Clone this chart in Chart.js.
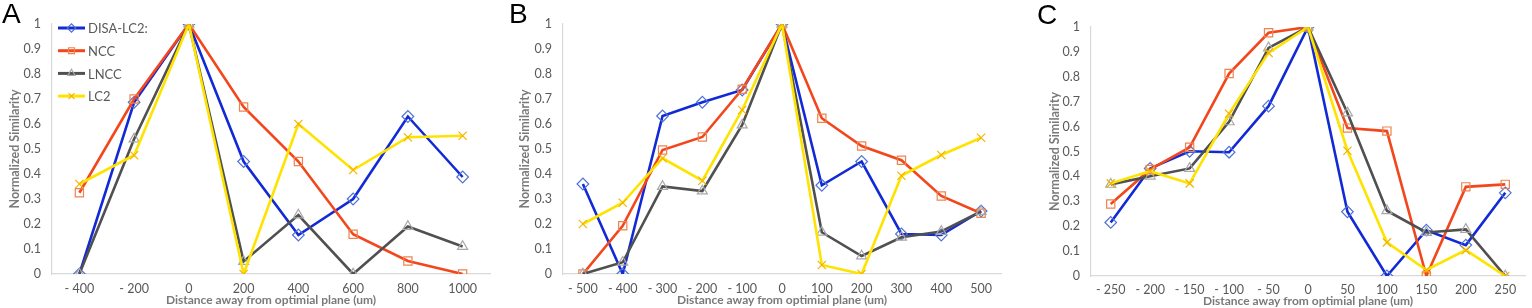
<!DOCTYPE html>
<html>
<head>
<meta charset="utf-8">
<script src="https://cdn.jsdelivr.net/npm/chart.js@4.4.1/dist/chart.umd.min.js"></script>
<style>
  body { margin: 0; background: #fff; width: 1532px; height: 308px; overflow: hidden; position: relative; }
  canvas { position: absolute; top: 0; }
  .letter { position: absolute; font-family: "Liberation Sans", Arial, sans-serif; font-size: 28px; line-height: 1; color: #000; }
</style>
</head>
<body>
<canvas id="ca" width="510" height="308" style="left:0"></canvas>
<canvas id="cb" width="510" height="308" style="left:510px"></canvas>
<canvas id="cc" width="512" height="308" style="left:1020px"></canvas>
<div class="letter" style="left:2px;top:0">A</div>
<div class="letter" style="left:509px;top:0">B</div>
<div class="letter" style="left:1037px;top:1px">C</div>
<script>
const seriesNames = ['DISA-LC2:', 'NCC', 'LNCC', 'LC2'];

// panel A
const labelsA = ['- 400', '- 200', '0', '200', '400', '600', '800', '1000'];
const aDisa = [0, 0.687, 1, 0.45, 0.156, 0.30, 0.63, 0.388];
const aNcc  = [0.325, 0.70, 1, 0.668, 0.45, 0.159, 0.052, 0];
const aLncc = [0, 0.54, 1, 0.05, 0.236, 0, 0.19, 0.11];
const aLc2  = [0.36, 0.475, 1, 0, 0.60, 0.416, 0.547, 0.553];

// panel B
const labelsB = ['- 500', '- 400', '- 300', '- 200', '- 100', '0', '100', '200', '300', '400', '500'];
const bDisa = [0.36, 0, 0.632, 0.687, 0.736, 1, 0.355, 0.45, 0.16, 0.156, 0.252];
const bNcc  = [0, 0.193, 0.496, 0.548, 0.739, 1, 0.623, 0.512, 0.455, 0.312, 0.243];
const bLncc = [0, 0.047, 0.35, 0.332, 0.596, 1, 0.167, 0.072, 0.147, 0.17, 0.25];
const bLc2  = [0.2, 0.285, 0.463, 0.373, 0.656, 1, 0.036, 0, 0.393, 0.476, 0.545];

// panel C
const labelsC = ['- 250', '- 200', '- 150', '- 100', '- 50', '0', '50', '100', '150', '200', '250'];
const cDisa = [0.215, 0.432, 0.501, 0.497, 0.682, 1, 0.258, 0, 0.184, 0.124, 0.334];
const cNcc  = [0.289, 0.428, 0.517, 0.813, 0.977, 1, 0.594, 0.582, 0, 0.358, 0.368];
const cLncc = [0.368, 0.401, 0.432, 0.619, 0.916, 1, 0.655, 0.262, 0.175, 0.187, 0];
const cLc2  = [0.372, 0.421, 0.372, 0.652, 0.896, 1, 0.503, 0.135, 0.024, 0.104, 0];

const xTitle = 'Distance away from optimial plane (um)';
const yTitle = 'Normalized Similarity';

const styles = [
  { line: '#1229d6', marker: '#4f73d6', shape: 'rectRot', order: 4 },
  { line: '#f3461c', marker: '#ee8350', shape: 'rect', order: 3 },
  { line: '#505050', marker: '#a8a8a8', shape: 'triangle', order: 2 },
  { line: '#ffe300', marker: '#f4b400', shape: 'crossRot', order: 1 }
];

const tickColor = '#595959';
const titleColor = '#7a7a7a';
const fontFam = 'Lato, "Open Sans", sans-serif';

// legend drawn inside the plot area, like the Excel one
const insideLegend = {
  id: 'insideLegend',
  afterDatasetsDraw(chart, args, opts) {
    if (!opts.show) return;
    const ctx = chart.ctx;
    chart.data.datasets.forEach((ds, i) => {
      const y = opts.top + i * opts.gap;
      ctx.save();
      ctx.strokeStyle = ds.borderColor;
      ctx.lineWidth = 3;
      ctx.beginPath();
      ctx.moveTo(opts.left, y);
      ctx.lineTo(opts.left + opts.width, y);
      ctx.stroke();
      ctx.strokeStyle = ds.pointBorderColor;
      ctx.fillStyle = 'rgba(0,0,0,0)';
      ctx.lineWidth = 1.2;
      Chart.helpers.drawPoint(ctx, { pointStyle: ds.pointStyle, radius: 4.2, borderWidth: 1.2, rotation: 0 },
        opts.left + opts.width / 2, y);
      ctx.fillStyle = tickColor;
      ctx.font = '13px ' + fontFam;
      ctx.textBaseline = 'middle';
      ctx.fillText(ds.label, opts.left + opts.width + 3, y + 1);
      ctx.restore();
    });
  }
};

function makeChart(id, labels, values, geo) {
  const datasets = values.map((v, i) => ({
    label: seriesNames[i],
    data: v,
    borderColor: styles[i].line,
    borderWidth: 2.6,
    pointStyle: styles[i].shape,
    pointRadius: 5.8,
    pointBorderColor: styles[i].marker,
    pointBackgroundColor: 'rgba(0,0,0,0)',
    pointBorderWidth: 1.2,
    tension: 0,
    order: styles[i].order
  }));

  new Chart(document.getElementById(id), {
    type: 'line',
    data: { labels: labels, datasets: datasets },
    plugins: [insideLegend],
    options: {
      responsive: false,
      animation: false,
      layout: { padding: { top: geo.top, right: geo.right, left: 0, bottom: 0 } },
      plugins: {
        legend: { display: false },
        tooltip: { enabled: false },
        insideLegend: { show: geo.legend, left: 58, width: 27, top: 28, gap: 22.7 }
      },
      scales: {
        x: {
          offset: true,
          grid: { color: 'rgba(0,0,0,0)', drawTicks: false },
          border: { display: true, color: '#d9d9d9', width: 1.2 },
          ticks: { padding: geo.xpad, color: tickColor, font: { family: fontFam, size: 12.5 }, maxRotation: 0, autoSkip: false },
          title: { display: true, text: xTitle, color: titleColor, font: { family: fontFam, size: 12, weight: 'bold' }, padding: { top: 0, bottom: geo.xtb } },
          afterFit(s) { s.height = geo.xh; }
        },
        y: {
          min: 0,
          max: 1,
          grid: { color: 'rgba(0,0,0,0)', drawTicks: false },
          border: { display: true, color: '#d9d9d9', width: 1.2 },
          ticks: {
            stepSize: 0.1, padding: 11, color: tickColor, font: { family: fontFam, size: 12.5 },
            callback: v => String(Number(v.toFixed(1)))
          },
          title: { display: true, text: yTitle, color: titleColor, font: { family: fontFam, size: 12.5, weight: 'bold' }, padding: { top: geo.ytp, bottom: 0 } },
          afterFit(s) { s.width = geo.yw; }
        }
      }
    }
  });
}

makeChart('ca', labelsA, [aDisa, aNcc, aLncc, aLc2],
  { top: 24, right: 20, yw: 52, xh: 34, xpad: 7, xtb: 1, ytp: 7, legend: true });
makeChart('cb', labelsB, [bDisa, bNcc, bLncc, bLc2],
  { top: 24, right: 19, yw: 53, xh: 34, xpad: 7, xtb: 1, ytp: 7, legend: false });
makeChart('cc', labelsC, [cDisa, cNcc, cLncc, cLc2],
  { top: 27, right: 4, yw: 71, xh: 32, xpad: 6, xtb: 0, ytp: 27, legend: false });
</script>
</body>
</html>
